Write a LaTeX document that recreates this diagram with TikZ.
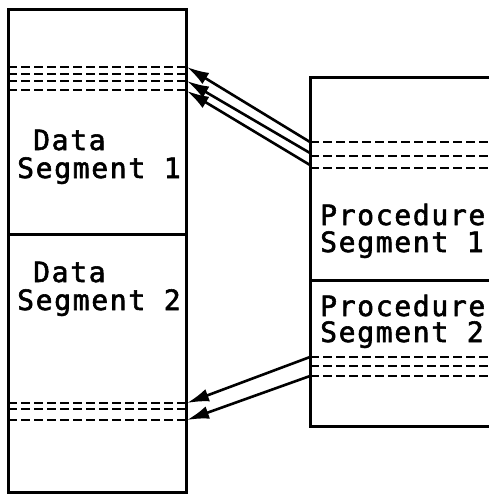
\documentclass[tikz,border=0pt]{standalone}
\usepackage{fontspec}
\newfontfamily\plotfont[LetterSpace=6,FakeBold=2]{DejaVu Sans Mono}
\usetikzlibrary{arrows.meta}
\begin{document}
\begin{tikzpicture}[x=1pt,y=-1pt,
  box/.style={line width=3pt},
  dl/.style={line width=2.5pt,dash pattern=on 9pt off 4pt},
  ptr/.style={line width=2.6pt,-{Latex[length=22pt,width=13pt]}},
  lbl/.style={anchor=base west,inner sep=0pt,font=\plotfont\fontsize{28}{30}\selectfont}]
\useasboundingbox (0,0) rectangle (489,496);
% left box
\draw[box] (8,9) rectangle (186,492);
\draw[box] (8,234) -- (186,234);
% right box (cut off at right)
\draw[box] (489,77) -- (310,77) -- (310,426) -- (489,426);
\draw[box] (310,280) -- (489,280);
% dashed lines left top
\foreach \y in {67,74,81,90} \draw[dl] (8,\y) -- (186,\y);
% dashed lines left bottom
\foreach \y in {403,409,420} \draw[dl] (8,\y) -- (186,\y);
% dashed right top
\foreach \y in {142,156,168} \draw[dl] (310,\y) -- (489,\y);
% dashed right bottom
\foreach \y in {357,366,376} \draw[dl] (310,\y) -- (489,\y);
% labels
\node[lbl] (d1) at (33,150) {Data};
\node[lbl] (s1) at (17,178) {Segment 1};
\node[lbl] (d2) at (33,282) {Data};
\node[lbl] (s2) at (17,310) {Segment 2};
\node[lbl] (p1) at (320,225) {Procedure};
\node[lbl] (q1) at (320,252) {Segment 1};
\node[lbl] (p2) at (320,316) {Procedure};
\node[lbl] (q2) at (320,342) {Segment 2};
% arrow endpoints
\coordinate (t1) at (310,142); \coordinate (h1) at (187,67);
\coordinate (t2) at (310,153); \coordinate (h2) at (187,81);
\coordinate (t3) at (310,165); \coordinate (h3) at (187,91);
\coordinate (t4) at (310,357); \coordinate (h4) at (187,403);
\coordinate (t5) at (310,376); \coordinate (h5) at (187,420);
\draw[ptr] (t1) -- (h1);
\draw[ptr] (t2) -- (h2);
\draw[ptr] (t3) -- (h3);
\draw[ptr] (t4) -- (h4);
\draw[ptr] (t5) -- (h5);
\end{tikzpicture}
\end{document}
